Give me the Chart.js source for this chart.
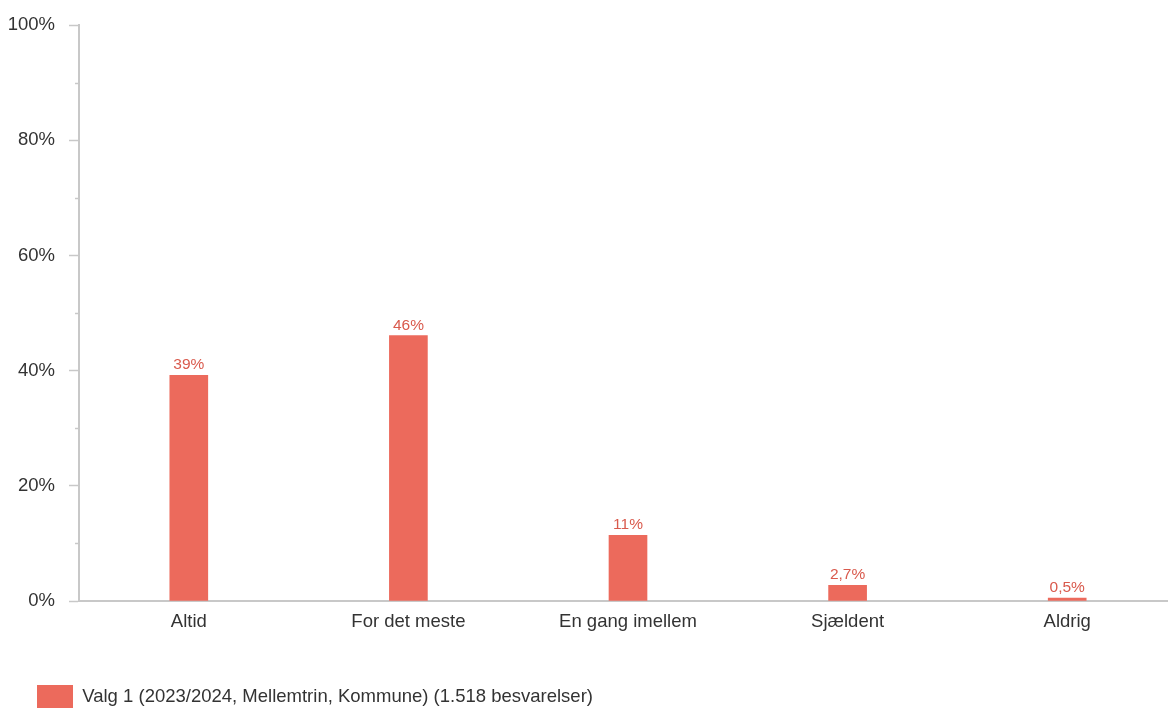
<!DOCTYPE html>
<html>
<head>
<meta charset="utf-8">
<script src="https://cdn.jsdelivr.net/npm/chart.js@4/dist/chart.umd.min.js"></script>
<style>
  html, body { margin: 0; padding: 0; background: #fff; overflow: hidden; }
  #wrap { position: relative; width: 1177px; height: 718px; }
</style>
</head>
<body>
<div id="wrap"><canvas id="c"></canvas></div>
<script>
const categories = ['Altid', 'For det meste', 'En gang imellem', 'Sjældent', 'Aldrig'];
const values = [39.2, 46.1, 11.4, 2.7, 0.5];
const valueLabels = ['39%', '46%', '11%', '2,7%', '0,5%'];
const seriesName = 'Valg 1 (2023/2024, Mellemtrin, Kommune) (1.518 besvarelser)';
const yTicks = [0, 20, 40, 60, 80, 100];
const yMinorTicks = [10, 30, 50, 70, 90];

const FONT = 'Arial, "Liberation Sans", sans-serif';
const BAR = '#EC6A5C';
const LABEL = '#D95A4D';
const AXIS = '#C8C8C8';
const TEXT = '#333333';

const valueLabelPlugin = {
  id: 'valueLabels',
  afterDatasetsDraw(chart) {
    const ctx = chart.ctx;
    const meta = chart.getDatasetMeta(0);
    ctx.save();
    ctx.font = '15.5px ' + FONT;
    ctx.fillStyle = LABEL;
    ctx.textAlign = 'center';
    ctx.textBaseline = 'alphabetic';
    meta.data.forEach((bar, i) => {
      ctx.fillText(valueLabels[i], bar.x, bar.y - 6);
    });
    ctx.restore();
  }
};

const minorTickPlugin = {
  id: 'minorTicks',
  afterDraw(chart) {
    const y = chart.scales.y;
    const ctx = chart.ctx;
    ctx.save();
    ctx.strokeStyle = AXIS;
    ctx.lineWidth = 1.5;
    yMinorTicks.forEach(v => {
      const py = Math.round(y.getPixelForValue(v)) + 0.5;
      ctx.beginPath();
      ctx.moveTo(chart.chartArea.left - 4, py);
      ctx.lineTo(chart.chartArea.left, py);
      ctx.stroke();
    });
    ctx.restore();
  }
};

const legendShiftPlugin = {
  id: 'legendShift',
  afterLayout(chart) {
    if (chart.legend) { chart.legend.left += 37; }
  }
};

new Chart(document.getElementById('c'), {
  type: 'bar',
  data: {
    labels: categories,
    datasets: [{
      label: seriesName,
      data: values,
      backgroundColor: BAR,
      borderWidth: 0,
      barThickness: 38
    }]
  },
  options: {
    responsive: true,
    maintainAspectRatio: false,
    animation: false,
    layout: { padding: { left: 0, right: 0, top: 23, bottom: 0 } },
    plugins: {
      tooltip: { enabled: false },
      legend: {
        position: 'bottom',
        align: 'start',
        labels: {
          boxWidth: 36,
          boxHeight: 23,
          padding: 0,
          color: TEXT,
          font: { family: FONT, size: 18.5 }
        }
      }
    },
    scales: {
      x: {
        grid: { display: false, drawTicks: false },
        border: { color: AXIS, width: 2 },
        ticks: { color: TEXT, font: { family: FONT, size: 18.5 }, padding: 10, maxRotation: 0 },
        afterFit(scale) { scale.height = 84; }
      },
      y: {
        min: 0,
        max: 100,
        afterBuildTicks(scale) { scale.ticks = yTicks.map(v => ({ value: v })); },
        grid: { drawOnChartArea: false, tickLength: 10, tickColor: AXIS, tickWidth: 1.5 },
        border: { color: AXIS, width: 2 },
        ticks: {
          color: TEXT,
          font: { family: FONT, size: 18.5 },
          padding: 14,
          autoSkip: false,
          callback: v => v + '%'
        },
        afterFit(scale) { scale.width = 79; }
      }
    }
  },
  plugins: [valueLabelPlugin, minorTickPlugin, legendShiftPlugin]
});
</script>
</body>
</html>
